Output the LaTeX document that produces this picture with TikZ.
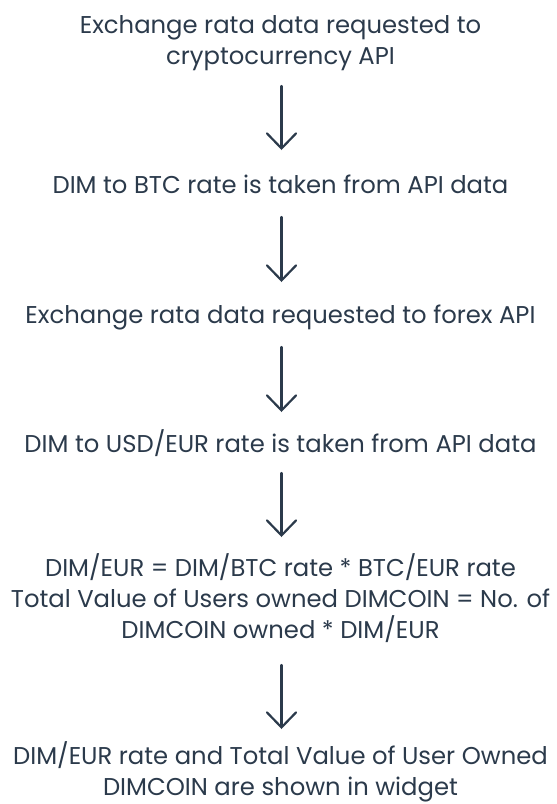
\documentclass[tikz,border=0pt]{standalone}
\usepackage{fontspec}
\setmainfont{Poppins}
\usetikzlibrary{arrows.meta}
\definecolor{ink}{HTML}{2B3A4B}
\begin{document}
\begin{tikzpicture}[x=1pt,y=-1pt,
  txt/.style={anchor=base, inner sep=0pt, text=ink, font=\fontsize{24.3}{31}\selectfont, align=center},
  flow/.style={draw=ink, line width=2.2pt, line cap=round, -{Straight Barb[length=15pt,width=29pt,line cap=round]}}]
\useasboundingbox (0,0) rectangle (557,804);
\node[txt] (t1) at (280.5,64) {Exchange rata data requested to\\cryptocurrency API};
\node[txt] (t2) at (280.5,193) {DIM to BTC rate is taken from API data};
\node[txt] (t3) at (280.5,323) {Exchange rata data requested to forex API};
\node[txt] (t4) at (280.5,452) {DIM to USD/EUR rate is taken from API data};
\node[txt] (t5) at (280.5,638) {DIM/EUR = DIM/BTC rate * BTC/EUR rate\\Total Value of Users owned DIMCOIN = No. of\\DIMCOIN owned * DIM/EUR};
\node[txt] (t6) at (280.5,795) {DIM/EUR rate and Total Value of User Owned\\DIMCOIN are shown in widget};
\coordinate (a1s) at (281.5,86);  \coordinate (a1e) at (281.5,150);
\coordinate (a2s) at (281.5,217); \coordinate (a2e) at (281.5,282);
\coordinate (a3s) at (281.5,347); \coordinate (a3e) at (281.5,412);
\coordinate (a4s) at (281.5,473); \coordinate (a4e) at (281.5,537);
\coordinate (a5s) at (281.5,665); \coordinate (a5e) at (281.5,729);
\draw[flow] (a1s) -- (a1e);
\draw[flow] (a2s) -- (a2e);
\draw[flow] (a3s) -- (a3e);
\draw[flow] (a4s) -- (a4e);
\draw[flow] (a5s) -- (a5e);
\end{tikzpicture}
\end{document}
